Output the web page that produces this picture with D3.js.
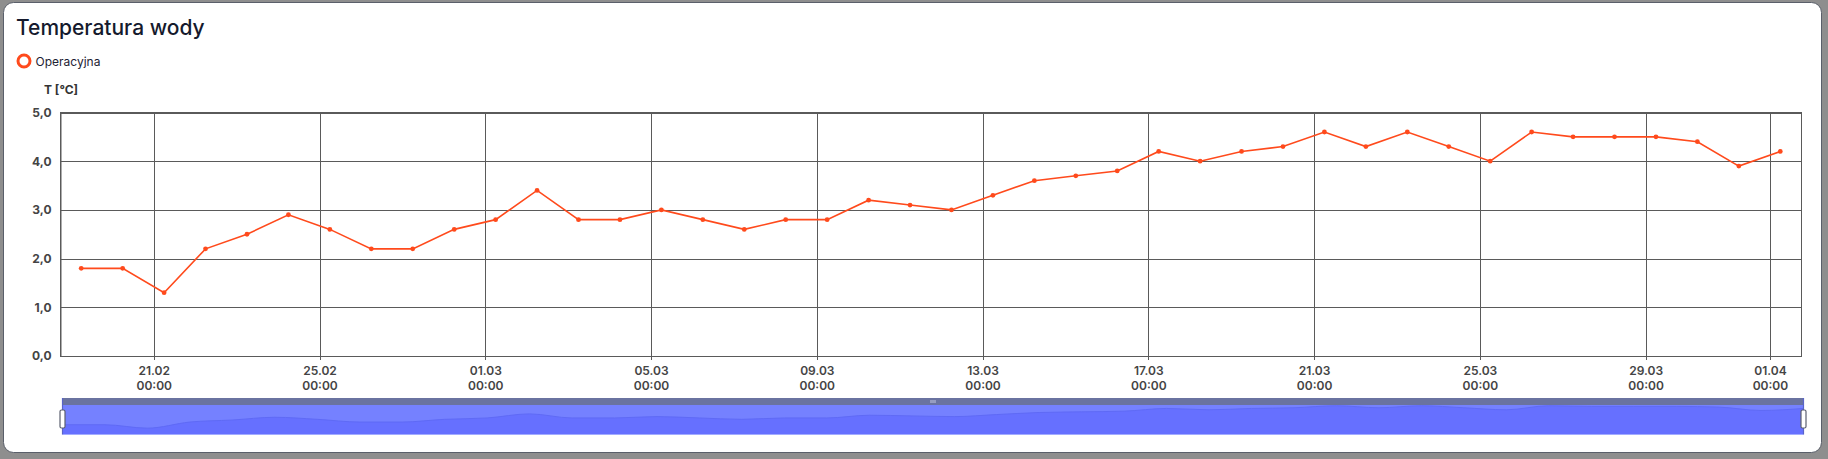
<!DOCTYPE html>
<html>
<head>
<meta charset="utf-8">
<script src="https://cdn.jsdelivr.net/npm/d3@7/dist/d3.min.js"></script>
<style>
  html, body { margin: 0; padding: 0; background: #8e8e8e; }
  svg { display: block; }
</style>
</head>
<body>
<svg id="chart" width="1828" height="459"></svg>
<script>
const title = "Temperatura wody";
const seriesName = "Operacyjna";
const yAxisLabel = "T [°C]";

const dates = [
  "2025-02-19","2025-02-20","2025-02-21","2025-02-22","2025-02-23","2025-02-24","2025-02-25",
  "2025-02-26","2025-02-27","2025-02-28","2025-03-01","2025-03-02","2025-03-03","2025-03-04",
  "2025-03-05","2025-03-06","2025-03-07","2025-03-08","2025-03-09","2025-03-10","2025-03-11",
  "2025-03-12","2025-03-13","2025-03-14","2025-03-15","2025-03-16","2025-03-17","2025-03-18",
  "2025-03-19","2025-03-20","2025-03-21","2025-03-22","2025-03-23","2025-03-24","2025-03-25",
  "2025-03-26","2025-03-27","2025-03-28","2025-03-29","2025-03-30","2025-03-31","2025-04-01"
];
const values = [
  1.8, 1.8, 1.3, 2.2, 2.5, 2.9, 2.6,
  2.2, 2.2, 2.6, 2.8, 3.4, 2.8, 2.8,
  3.0, 2.8, 2.6, 2.8, 2.8, 3.2, 3.1,
  3.0, 3.3, 3.6, 3.7, 3.8, 4.2, 4.0,
  4.2, 4.3, 4.6, 4.3, 4.6, 4.3, 4.0,
  4.6, 4.5, 4.5, 4.5, 4.4, 3.9, 4.2
];
const xTickDates = ["2025-02-21","2025-02-25","2025-03-01","2025-03-05","2025-03-09","2025-03-13",
  "2025-03-17","2025-03-21","2025-03-25","2025-03-29","2025-04-01"];
const yTicks = [0, 1, 2, 3, 4, 5];
const domainStart = "2025-02-18T18:00:00Z";
const domainEnd = "2025-04-01T18:00:00Z";

const parseT = s => new Date(s + "T06:00:00Z");
const data = dates.map((d, i) => ({ t: parseT(d), v: values[i] }));

const svg = d3.select("#chart");
const W = 1828, H = 459;

// card
svg.append("rect").attr("x", 3.5).attr("y", 2.5).attr("width", 1818).attr("height", 450)
  .attr("rx", 10).attr("fill", "#ffffff").attr("stroke", "#5a5f6a").attr("stroke-width", 1);

// title
svg.append("text").attr("x", 16).attr("y", 35).text(title)
  .attr("font-family", "Inter, 'Open Sans', sans-serif").attr("font-size", 21).attr("font-weight", 500)
  .attr("fill", "#151a2d");

// legend
svg.append("circle").attr("cx", 24).attr("cy", 61).attr("r", 6)
  .attr("fill", "none").attr("stroke", "#ff4a1c").attr("stroke-width", 3);
svg.append("text").attr("x", 35.5).attr("y", 65.5).text(seriesName)
  .attr("font-family", "Inter, 'Open Sans', sans-serif").attr("font-size", 12)
  .attr("fill", "#1d2233");

const margin = { left: 60.5, right: 1801, top: 112.5, bottom: 356 };
const x = d3.scaleUtc().domain([new Date(domainStart), new Date(domainEnd)]).range([margin.left, margin.right]);
const y = d3.scaleLinear().domain([0, 5]).range([margin.bottom, margin.top]);

const fmtY = v => d3.format(".1f")(v).replace(".", ",");
const tickDates = xTickDates.map(s => new Date(s + "T00:00:00Z"));

// y label
svg.append("text").attr("x", 44).attr("y", 94).text(yAxisLabel)
  .attr("font-family", "Inter, 'Open Sans', sans-serif").attr("font-size", 12).attr("font-weight", 700)
  .attr("fill", "#333");

const gridColor = "#5a5a5a";
// horizontal grid / y axis
const yAxis = d3.axisLeft(y).tickValues(yTicks).tickFormat(fmtY).tickSize(-(margin.right - margin.left)).tickPadding(9);
const gy = svg.append("g").attr("transform", `translate(${margin.left},0)`).call(yAxis);
gy.select(".domain").attr("stroke", gridColor);
gy.selectAll(".tick line").attr("stroke", gridColor).attr("shape-rendering", "crispEdges");
gy.selectAll(".tick text").attr("font-family", "Inter, 'Open Sans', sans-serif").attr("font-size", 12)
  .attr("font-weight", 700).attr("fill", "#444");

// x axis with vertical grid
const fmtD = d3.utcFormat("%d.%m");
const fmtH = d3.utcFormat("%H:%M");
const xAxis = d3.axisBottom(x).tickValues(tickDates).tickSize(-(margin.bottom - margin.top)).tickFormat("");
const gx = svg.append("g").attr("transform", `translate(0,${margin.bottom})`).call(xAxis);
gx.select(".domain").remove();
gx.selectAll(".tick line").attr("stroke", gridColor).attr("shape-rendering", "crispEdges");
// tick marks below axis
const gx2 = svg.append("g").attr("transform", `translate(0,${margin.bottom})`)
  .call(d3.axisBottom(x).tickValues(tickDates).tickSize(4).tickFormat(""));
gx2.select(".domain").remove();
gx2.selectAll(".tick line").attr("stroke", gridColor).attr("shape-rendering", "crispEdges");
gx2.selectAll(".tick").each(function(d) {
  const g = d3.select(this);
  const t = g.append("text").attr("text-anchor", "middle").attr("fill", "#444")
    .attr("font-family", "Inter, 'Open Sans', sans-serif").attr("font-size", 12).attr("font-weight", 600);
  t.append("tspan").attr("x", 0).attr("y", 19).text(fmtD(d));
  t.append("tspan").attr("x", 0).attr("y", 34).text(fmtH(d));
});

// plot frame
svg.append("rect").attr("x", margin.left).attr("y", margin.top)
  .attr("width", margin.right - margin.left).attr("height", margin.bottom - margin.top)
  .attr("fill", "none").attr("stroke", gridColor).attr("shape-rendering", "crispEdges");

// series
const lineColor = "#ff4a1c";
svg.append("path").datum(data)
  .attr("d", d3.line().x(d => x(d.t)).y(d => y(d.v)))
  .attr("fill", "none").attr("stroke", lineColor).attr("stroke-width", 1.6);
svg.append("g").selectAll("circle").data(data).join("circle")
  .attr("cx", d => x(d.t)).attr("cy", d => y(d.v)).attr("r", 2.4).attr("fill", lineColor);

// data zoom slider
const sl = { x0: 62.5, x1: 1803.5, top: 398, band: 405, bottom: 434.5 };
const sx = d3.scaleUtc().domain(d3.extent(data, d => d.t)).range([sl.x0, sl.x1]);
const sy = d3.scaleLinear().domain([0, 5]).range([437, 403]);
svg.append("rect").attr("x", sl.x0).attr("y", sl.top).attr("width", sl.x1 - sl.x0).attr("height", sl.band - sl.top)
  .attr("fill", "#6a73a0");
svg.append("rect").attr("x", sl.x0).attr("y", sl.band).attr("width", sl.x1 - sl.x0).attr("height", sl.bottom - sl.band)
  .attr("fill", "#7581ff");
const clip = svg.append("clipPath").attr("id", "slclip");
clip.append("rect").attr("x", sl.x0).attr("y", sl.band).attr("width", sl.x1 - sl.x0).attr("height", sl.bottom - sl.band);
svg.append("path").datum(data).attr("clip-path", "url(#slclip)")
  .attr("d", d3.area().curve(d3.curveMonotoneX).x(d => sx(d.t)).y0(sl.bottom).y1(d => sy(d.v)))
  .attr("fill", "#6670ff");
svg.append("path").datum(data).attr("clip-path", "url(#slclip)")
  .attr("d", d3.line().curve(d3.curveMonotoneX).x(d => sx(d.t)).y(d => sy(d.v)))
  .attr("fill", "none").attr("stroke", "#5f6af5").attr("stroke-width", 1);
// edges
[sl.x0, sl.x1].forEach(xx => {
  svg.append("line").attr("x1", xx).attr("x2", xx).attr("y1", sl.top).attr("y2", sl.bottom)
    .attr("stroke", "#5a64c8").attr("stroke-width", 1.2);
  svg.append("rect").attr("x", xx - 2.5).attr("y", 410).attr("width", 5).attr("height", 18).attr("rx", 1.5)
    .attr("fill", "#ffffff").attr("stroke", "#5c6070").attr("stroke-width", 1.2);
});
// middle grip
const midX = (sl.x0 + sl.x1) / 2;
[-2, 0, 2].forEach(o => {
  svg.append("line").attr("x1", midX + o).attr("x2", midX + o).attr("y1", 400).attr("y2", 403)
    .attr("stroke", "#d8dcf0").attr("stroke-width", 0.8);
});
</script>
</body>
</html>
